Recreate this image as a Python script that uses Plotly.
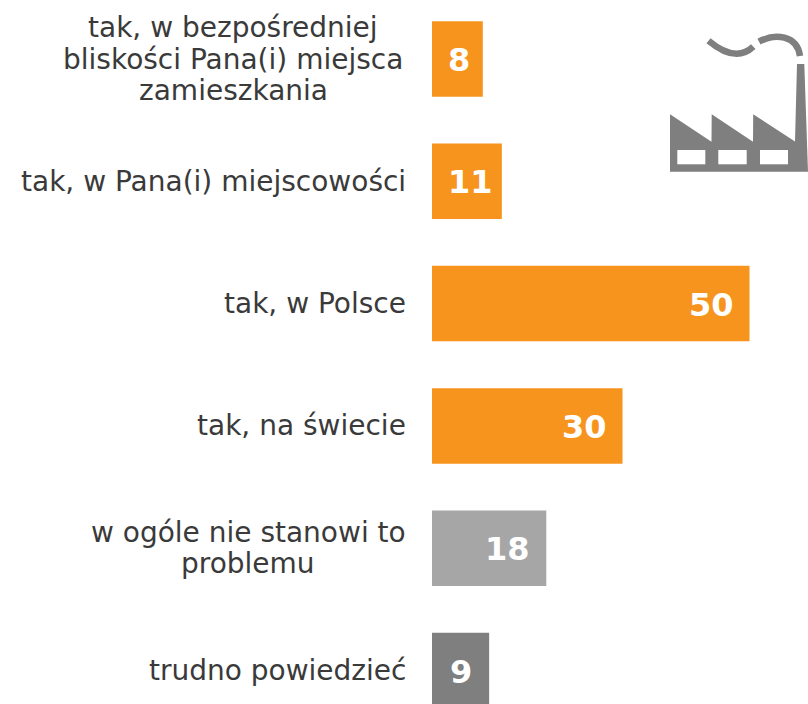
import plotly.graph_objects as go

categories = [
    "tak, w bezpośredniej<br>bliskości Pana(i) miejsca<br>zamieszkania",
    "tak, w Pana(i) miejscowości",
    "tak, w Polsce",
    "tak, na świecie",
    "w ogóle nie stanowi to<br>problemu",
    "trudno powiedzieć",
]
values = [8, 11, 50, 30, 18, 9]
colors = ["#F7941E", "#F7941E", "#F7941E", "#F7941E", "#A6A6A6", "#7F7F7F"]

W, H = 808, 704
L = 432
UNIT = 6.35
PITCH = 122.3
FIRST = 59

label_shift = [-11, -7, -14, -14, -14, -15]
block_center = [233, None, None, None, 248, None]
LINE = 31.5
FONT = "DejaVu Sans"


def px(x):
    return (x - L) / (W - L)


def py(y):
    return 1 - y / H


def path(cmds):
    out = []
    for c in cmds:
        letter, pts = c[0], c[1:]
        out.append(letter + " " + " ".join(f"{px(a):.5f},{py(b):.5f}" for a, b in pts))
    return " ".join(out)


fig = go.Figure(
    go.Bar(
        x=values,
        y=categories,
        orientation="h",
        marker=dict(color=colors, line=dict(width=0)),
        width=75.5 / PITCH,
        hoverinfo="skip",
    )
)

annotations = []
for i, (cat, val) in enumerate(zip(categories, values)):
    annotations.append(dict(
        x=val, y=cat, xref="x", yref="y", text=f"<b>{val}</b>", showarrow=False,
        xanchor="right", xshift=label_shift[i], yshift=-1,
        font=dict(family=FONT, size=32, color="#FFFFFF"),
    ))
    lines = cat.split("<br>")
    for j, line in enumerate(lines):
        yshift = ((len(lines) - 1) / 2 - j) * LINE
        if block_center[i] is None:
            anchor, xshift = "right", -24
        else:
            anchor, xshift = "center", block_center[i] - L
        annotations.append(dict(
            x=0, y=cat, xref="x", yref="y", text=line, showarrow=False,
            xanchor=anchor, xshift=xshift, yshift=yshift,
            font=dict(family=FONT, size=28, color="#3A3A3A"),
        ))

icon = "#7F7F7F"
body = path([
    ("M", (670, 114.3)), ("L", (711.5, 141.7)), ("L", (711.7, 114.3)), ("L", (753, 141.7)),
    ("L", (753.2, 114.3)), ("L", (795, 141.5)), ("L", (797, 64)), ("L", (804.3, 64)),
    ("L", (808, 171.7)), ("L", (670, 171.7)), ("Z",),
])
shapes = [dict(type="path", xref="paper", yref="paper", path=body, fillcolor=icon, line=dict(width=0), layer="above")]
for x0, x1 in [(677.3, 705.3), (718.3, 746.7), (760, 788)]:
    shapes.append(dict(type="rect", xref="paper", yref="paper", x0=px(x0), x1=px(x1), y0=py(164.3), y1=py(150),
                       fillcolor="#FFFFFF", line=dict(width=0), layer="above"))
smoke = [
    path([("M", (708.5, 40.7)), ("Q", (735.6, 63.3), (753.3, 46.7))]),
    path([("M", (759, 41.7)), ("C", (775, 33), (797, 35), (800, 56))]),
]
for d in smoke:
    shapes.append(dict(type="path", xref="paper", yref="paper", path=d, line=dict(color=icon, width=6.5), layer="above"))

fig.update_layout(
    width=W, height=H, autosize=False,
    margin=dict(l=L, r=0, t=0, b=0),
    paper_bgcolor="white", plot_bgcolor="white",
    showlegend=False,
    xaxis=dict(range=[0, (W - L) / UNIT], visible=False, fixedrange=True),
    yaxis=dict(type="category", categoryorder="array", categoryarray=categories,
               range=[(H - FIRST) / PITCH, -FIRST / PITCH], visible=False, fixedrange=True),
    annotations=annotations, shapes=shapes,
)
fig.write_html(
    "out.html",
    config=dict(displayModeBar=False),
    post_script="document.documentElement.style.overflow='hidden';document.body.style.margin='0';",
)
